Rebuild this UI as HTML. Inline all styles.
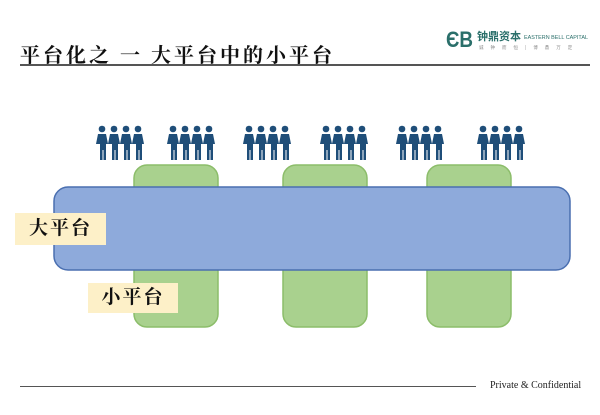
<!DOCTYPE html>
<html><head><meta charset="utf-8"><style>
body{margin:0;width:600px;height:415px;background:#fff;position:relative;overflow:hidden;font-family:"Liberation Sans","Noto Sans CJK SC",sans-serif}
.t{position:absolute;left:20px;top:39px;font-family:"Liberation Serif","Noto Serif CJK SC",serif;font-size:20px;letter-spacing:3px;color:#111;white-space:nowrap;font-weight:bold}
.l{position:absolute;background:#555}
.lab{position:absolute;background:#fdf0c8;font-family:"Liberation Serif","Noto Serif CJK SC",serif;font-size:19px;letter-spacing:2px;text-align:center;color:#111;font-weight:bold}
</style></head><body>
<div class="t">平台化之 一 大平台中的小平台</div>
<div class="l" style="left:20px;top:64px;width:570px;height:2px"></div>
<svg style="position:absolute;left:446px;top:26px" width="150" height="30">
<text x="0" y="21" font-size="22" font-weight="bold" fill="#2a6f6a" font-family="Liberation Sans,sans-serif" textLength="27" lengthAdjust="spacingAndGlyphs">ЄB</text>
<text x="31" y="14" font-size="11" font-weight="bold" fill="#2a6f6a" font-family="Liberation Sans,Noto Sans CJK SC,sans-serif">钟鼎资本</text>
<text x="78" y="13" font-size="5" fill="#2a6f6a" font-family="Liberation Sans,sans-serif" textLength="64" lengthAdjust="spacingAndGlyphs">EASTERN BELL CAPITAL</text>
<text x="33" y="23" font-size="4.5" fill="#888" font-family="Noto Sans CJK SC,sans-serif" letter-spacing="3">诚 钟 而 恒 | 博 鼎 万 定</text>
</svg>
<svg style="position:absolute;left:0;top:0" width="600" height="415">
<defs><g id="p"><circle cx="6" cy="4" r="3.3" fill="#1f4e79"/><path d="M2 9h8l2 10h-2v16h-2.5v-10h-1v10H4V19H0z" fill="#1f4e79"/></g>
<g id="g"><use href="#p" x="0"/><use href="#p" x="12"/><use href="#p" x="24"/><use href="#p" x="36"/></g></defs>
<use href="#g" x="96" y="125"/><use href="#g" x="167" y="125"/><use href="#g" x="243" y="125"/><use href="#g" x="320" y="125"/><use href="#g" x="396" y="125"/><use href="#g" x="477" y="125"/>
<rect x="134" y="165" width="84" height="162" rx="13" fill="#a9d18e" stroke="#8cbd6a" stroke-width="1.5"/>
<rect x="283" y="165" width="84" height="162" rx="13" fill="#a9d18e" stroke="#8cbd6a" stroke-width="1.5"/>
<rect x="427" y="165" width="84" height="162" rx="13" fill="#a9d18e" stroke="#8cbd6a" stroke-width="1.5"/>
<rect x="54" y="187" width="516" height="83" rx="14" fill="#8eaadb" stroke="#4a6fb0" stroke-width="1.5"/>
</svg>
<div class="lab" style="left:15px;top:213px;width:91px;height:32px;line-height:32px">大平台</div>
<div class="lab" style="left:88px;top:283px;width:90px;height:30px;line-height:30px">小平台</div>
<div class="l" style="left:20px;top:386px;width:456px;height:1px"></div>
<div style="position:absolute;left:490px;top:380px;font-family:'Liberation Serif',serif;font-size:10px;color:#222">Private &amp; Confidential</div>
</body></html>
